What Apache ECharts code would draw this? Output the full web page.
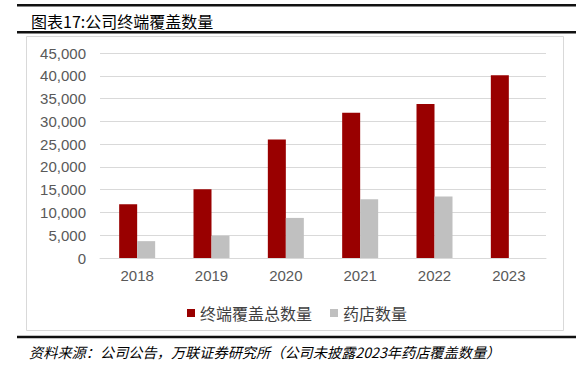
<!DOCTYPE html>
<html>
<head>
<meta charset="utf-8">
<script src="https://cdn.jsdelivr.net/npm/echarts@6/dist/echarts.min.js"></script>
<style>
html,body{margin:0;padding:0;background:#fff;}
#c{width:584px;height:380px;}
</style>
</head>
<body>
<div id="c"></div>
<script>
const categories = ['2018', '2019', '2020', '2021', '2022', '2023'];
const terminalTotal = [11800, 15100, 26000, 31900, 33800, 40100];
const pharmacyCount = [3700, 4900, 8800, 12900, 13500, null];
const seriesNames = ['终端覆盖总数量', '药店数量'];
const titleText = '图表17:公司终端覆盖数量';
const sourceText = '资料来源：公司公告，万联证券研究所（公司未披露2023年药店覆盖数量）';

const cjk = '"Noto Sans CJK SC", "Noto Sans", sans-serif';
const latin = '"Liberation Sans", Arial, sans-serif';

const chart = echarts.init(document.getElementById('c'), null, {renderer: 'svg'});
chart.setOption({
  animation: false,
  backgroundColor: '#ffffff',
  title: {
    text: titleText,
    left: 26,
    top: 8,
    textStyle: {fontFamily: cjk, fontSize: 16, fontWeight: 'normal', color: '#000000'}
  },
  graphic: [
    {type: 'line', shape: {x1: 17, y1: 5.2, x2: 576, y2: 5.2}, style: {stroke: '#111111', lineWidth: 2.6}},
    {type: 'line', shape: {x1: 17, y1: 32.2, x2: 576, y2: 32.2}, style: {stroke: '#111111', lineWidth: 2.6}},
    {type: 'rect', shape: {x: 26.5, y: 36.5, width: 537, height: 294}, style: {fill: 'none', stroke: '#d9d9d9', lineWidth: 1}, z: -1},
    {type: 'line', shape: {x1: 17, y1: 337, x2: 576, y2: 337}, style: {stroke: '#111111', lineWidth: 2.6}},
    {type: 'text', left: 29, top: 345, style: {text: sourceText, font: 'italic 14.2px ' + cjk, fill: '#000000'}}
  ],
  legend: {
    left: 182,
    top: 300,
    itemWidth: 8,
    itemHeight: 8,
    itemGap: 18,
    icon: 'rect',
    textStyle: {fontFamily: cjk, fontSize: 16, color: '#404040'},
    data: seriesNames
  },
  grid: {left: 100, right: 38, top: 53, bottom: 122, containLabel: false},
  xAxis: {
    type: 'category',
    data: categories,
    axisLine: {show: true, lineStyle: {color: '#d9d9d9', width: 1}},
    axisTick: {show: false},
    axisLabel: {margin: 10, fontFamily: latin, fontSize: 15, color: '#595959'}
  },
  yAxis: {
    type: 'value',
    min: 0,
    max: 45000,
    interval: 5000,
    axisLine: {show: false},
    axisTick: {show: false},
    splitLine: {lineStyle: {color: '#d9d9d9', width: 1}},
    axisLabel: {
      margin: 14,
      fontFamily: latin,
      fontSize: 15,
      color: '#595959',
      formatter: function (v) { return v.toLocaleString('en-US'); }
    }
  },
  series: [
    {name: seriesNames[0], type: 'bar', data: terminalTotal, barWidth: 18, barGap: '0%', itemStyle: {color: '#990000'}},
    {name: seriesNames[1], type: 'bar', data: pharmacyCount, barWidth: 18, barGap: '0%', itemStyle: {color: '#c0c0c0'}}
  ]
});
</script>
</body>
</html>
